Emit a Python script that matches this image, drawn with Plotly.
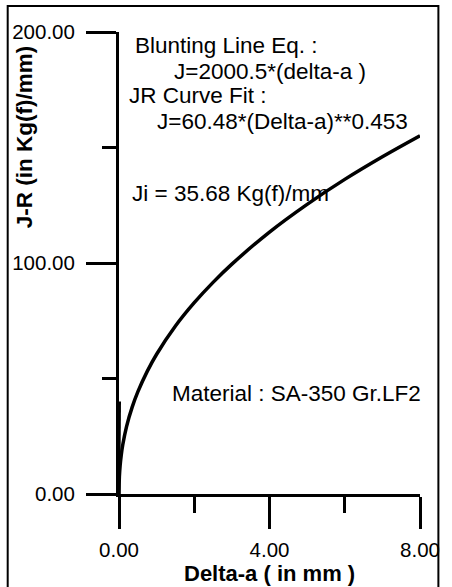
import plotly.graph_objects as go

# Data
delta_a = [0, 0.01, 0.03, 0.06, 0.1, 0.2, 0.35, 0.5, 0.75, 1, 1.5, 2, 2.5, 3, 4, 5, 6, 7, 8]
jr_values = [0, 7.5, 12.3, 16.9, 21.3, 29.2, 37.6, 44.2, 53.1, 60.5, 72.7, 82.8, 91.6, 99.5, 113.4, 125.4, 136.2, 146.0, 155.1]

blunt_a = [0, 0.02]
blunt_j = [0, 40]

x_ticks = [0, 4, 8]
y_ticks = [0, 100, 200]

# Layout geometry (pixels)
W, H = 452, 587
L, R, T, B = 119, 22, 32, 93
PW, PH = W - L - R, H - T - B

def px(x):
    return (x - L) / PW

def py(y):
    return (H - B - y) / PH

FONT = "Liberation Sans, Arial, sans-serif"

fig = go.Figure()
fig.add_trace(go.Scatter(x=blunt_a, y=blunt_j, mode="lines",
                         line=dict(color="black", width=2.5), showlegend=False))
fig.add_trace(go.Scatter(x=delta_a, y=jr_values, mode="lines",
                         line=dict(color="black", width=3.5, shape="spline"),
                         showlegend=False))

axis_common = dict(showline=True, linecolor="black", linewidth=3,
                   ticks="outside", tickwidth=3, tickcolor="black",
                   showgrid=False, zeroline=False, tickformat=".2f",
                   tickfont=dict(family=FONT, size=20.5, color="black"))

fig.update_xaxes(range=[0, 8], tickvals=x_ticks, ticklen=32,
                 ticklabelstandoff=3,
                 minor=dict(dtick=2, tick0=0, ticklen=16, tickwidth=3,
                            tickcolor="black", ticks="outside"),
                 **axis_common)
fig.update_yaxes(range=[0, 200], tickvals=y_ticks, ticklen=30,
                 ticklabelstandoff=7,
                 minor=dict(dtick=50, tick0=0, ticklen=14, tickwidth=3,
                            tickcolor="black", ticks="outside"),
                 **axis_common)

texts = [
    ("Blunting Line Eq. :", 133, 46),
    ("J=2000.5*(delta-a )", 174, 72),
    ("JR Curve Fit :", 127, 96),
    ("J=60.48*(Delta-a)**0.453", 156, 122),
    ("Ji = 35.68 Kg(f)/mm", 130, 193),
    ("Material : SA-350 Gr.LF2", 172, 393),
]
for t, x, y in texts:
    fig.add_annotation(text=t, x=px(x), y=py(y), xref="paper", yref="paper",
                       xanchor="left", yanchor="middle", showarrow=False,
                       font=dict(family=FONT, size=22.5, color="black"))

fig.add_annotation(text="<b>Delta-a ( in mm )</b>", x=px(275), y=py(573),
                   xref="paper", yref="paper", xanchor="center", yanchor="middle",
                   showarrow=False, font=dict(family=FONT, size=22, color="black"))
fig.add_annotation(text="<b>J-R (in Kg(f)/mm)</b>", x=px(21), y=py(137),
                   xref="paper", yref="paper", xanchor="center", yanchor="middle",
                   textangle=-90, showarrow=False,
                   font=dict(family=FONT, size=22.5, color="black"))

# outer frame
fig.add_shape(type="rect", xref="paper", yref="paper",
              x0=px(4), x1=px(449), y0=py(6), y1=py(600),
              line=dict(color="black", width=2), layer="above")

fig.update_layout(width=W, height=H, margin=dict(l=L, r=R, t=T, b=B),
                  paper_bgcolor="white", plot_bgcolor="white")

fig.write_html("out.html")
